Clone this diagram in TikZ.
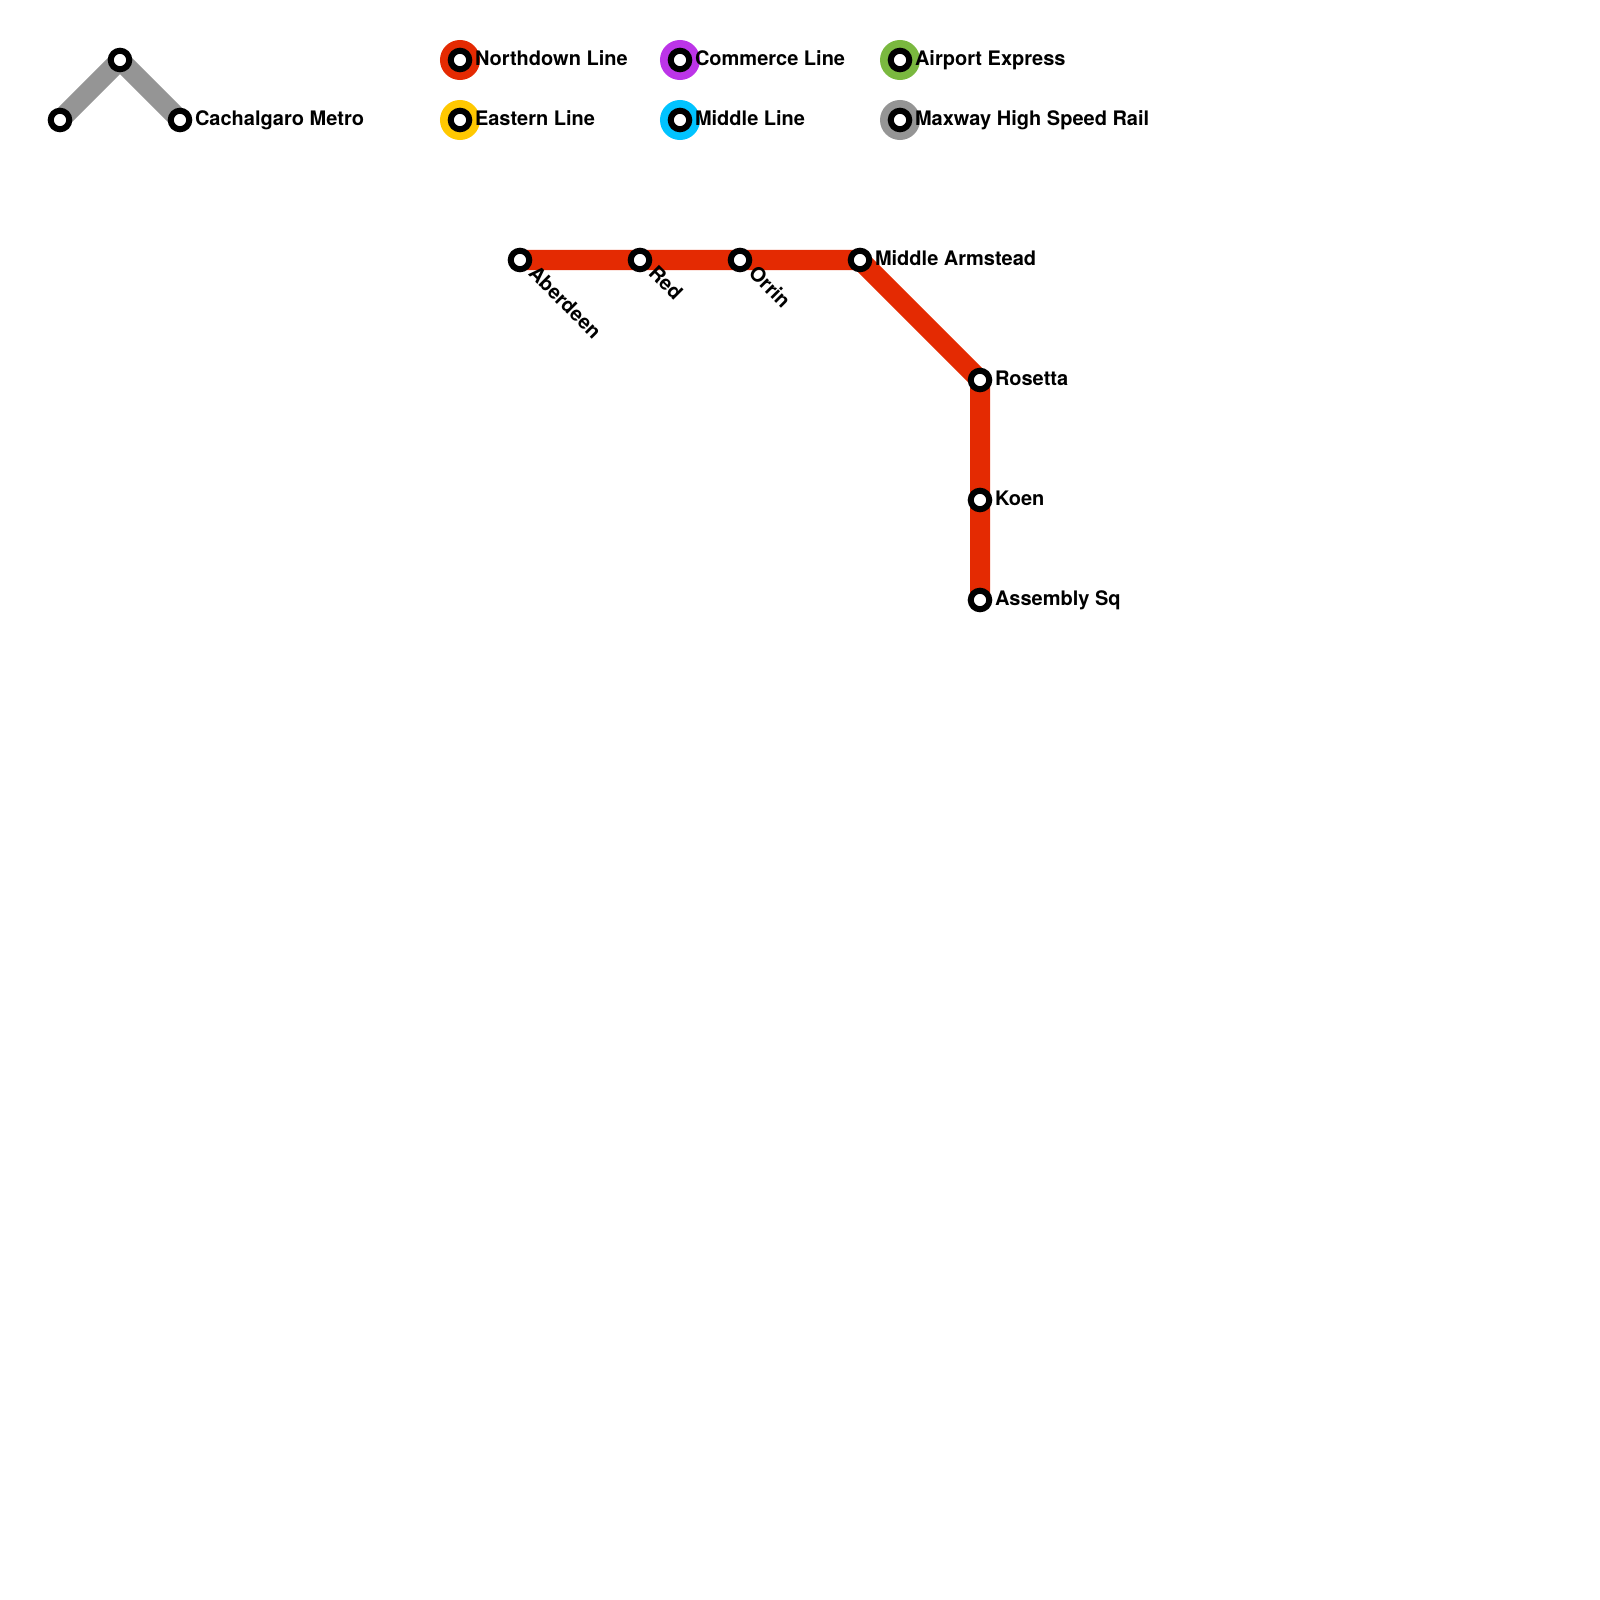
\documentclass[tikz,border=0pt]{standalone}
\usepackage{fontspec}
\setmainfont{TeX Gyre Heros}
\definecolor{cred}{HTML}{E42A02}
\definecolor{cgrey}{HTML}{959595}
\definecolor{cpurple}{HTML}{BC34E8}
\definecolor{cyellow}{HTML}{FFC800}
\definecolor{ccyan}{HTML}{00C3FF}
\definecolor{cgreen}{HTML}{7AB83F}
\tikzset{
  x=0.01cm,y=-0.01cm,
  stn/.style={circle,draw=black,fill=white,line width=0.06cm,minimum size=0.185cm,inner sep=0pt,outer sep=0pt},
  route/.style={line width=0.2cm,line cap=butt,line join=bevel},
  legdot/.style={circle,minimum size=0.4cm,inner sep=0pt,outer sep=0pt},
  lab/.style={anchor=base west,inner sep=0pt,outer sep=0pt,font=\bfseries\fontsize{5.69pt}{6.8pt}\selectfont,text=black},
  dlab/.style={lab,rotate=-45}
}
\begin{document}
\begin{tikzpicture}
\useasboundingbox (0,0) rectangle (1600,1600);
% legend dots
\node[legdot,fill=cred] (ln) at (460,60) {};
\node[legdot,fill=cyellow] (le) at (460,120) {};
\node[legdot,fill=cpurple] (lc) at (680,60) {};
\node[legdot,fill=ccyan] (lm) at (680,120) {};
\node[legdot,fill=cgreen] (la) at (900,60) {};
\node[legdot,fill=cgrey] (lh) at (900,120) {};
% stations
\coordinate (g1) at (60,120);
\coordinate (g2) at (120,60);
\coordinate (g3) at (180,120);
\coordinate (r1) at (520,260);
\coordinate (r2) at (640,260);
\coordinate (r3) at (740,260);
\coordinate (r4) at (860,260);
\coordinate (r5) at (980,380);
\coordinate (r6) at (980,500);
\coordinate (r7) at (980,600);
\draw[route,cgrey] (g1) -- (g2) -- (g3);
\draw[route,cred] (r1) -- (r2) -- (r3) -- (r4) -- (r5) -- (r6) -- (r7);
\foreach \p in {g1,g2,g3,r1,r2,r3,r4,r5,r6,r7,ln,le,lc,lm,la,lh}
  \node[stn] (s\p) at (\p) {};
% labels
\node[lab] (t0) at (195,125.5) {Cachalgaro Metro};
\node[lab] (t1) at (475,65.5) {Northdown Line};
\node[lab] (t2) at (475,125.5) {Eastern Line};
\node[lab] (t3) at (695,65.5) {Commerce Line};
\node[lab] (t4) at (695,125.5) {Middle Line};
\node[lab] (t5) at (915,65.5) {Airport Express};
\node[lab] (t6) at (915,125.5) {Maxway High Speed Rail};
\node[lab] (t7) at (875,265.5) {Middle Armstead};
\node[lab] (t8) at (995,385.5) {Rosetta};
\node[lab] (t9) at (995,505.5) {Koen};
\node[lab] (t10) at (995,605.5) {Assembly Sq};
\node[dlab] (t11) at (527.5,274.5) {Aberdeen};
\node[dlab] (t12) at (647.5,274.5) {Red};
\node[dlab] (t13) at (747.5,274.5) {Orrin};
\end{tikzpicture}
\end{document}
